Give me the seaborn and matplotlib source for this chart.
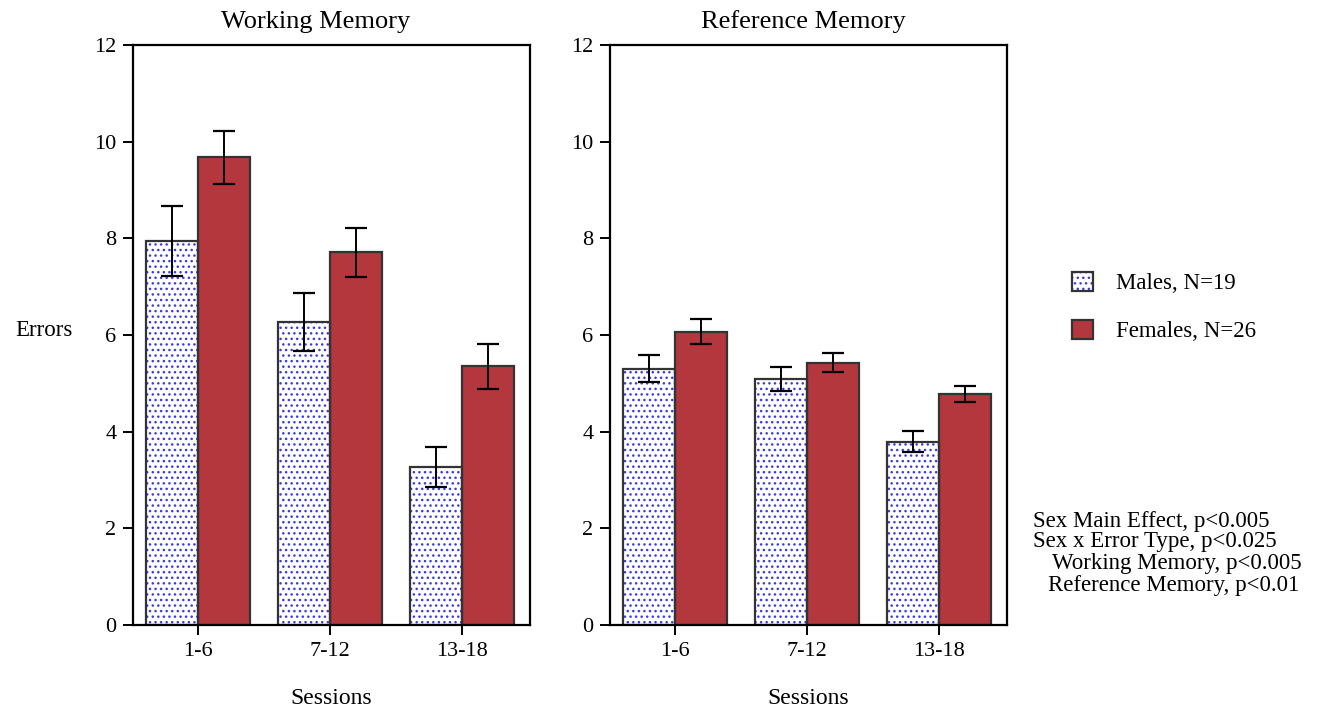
import matplotlib
matplotlib.use("Agg")
import matplotlib.pyplot as plt
from matplotlib.patches import Patch, Rectangle
from matplotlib.legend_handler import HandlerTuple
import pandas as pd
import seaborn as sns

# ---- data -------------------------------------------------------------
sessions = ["1-6", "7-12", "13-18"]
groups = ["Males", "Females"]
legend_labels = ["Males, N=19", "Females, N=26"]

wm_males = [7.95, 6.27, 3.27]
wm_males_se = [0.72, 0.60, 0.42]
wm_females = [9.68, 7.71, 5.35]
wm_females_se = [0.55, 0.50, 0.47]

rm_males = [5.30, 5.09, 3.79]
rm_males_se = [0.28, 0.245, 0.22]
rm_females = [6.07, 5.43, 4.78]
rm_females_se = [0.26, 0.20, 0.17]

panel_titles = ["Working Memory", "Reference Memory"]
y_ticks = [0, 2, 4, 6, 8, 10, 12]
stats_lines = [
    "Sex Main Effect, p<0.005",
    "Sex x Error Type, p<0.025",
    "Working Memory, p<0.005",
    "Reference Memory, p<0.01",
]

# ---- style ------------------------------------------------------------
sns.set_theme(style="white")
plt.rcParams["font.family"] = ["Liberation Serif", "DejaVu Serif"]
plt.rcParams["text.color"] = "black"
plt.rcParams["axes.labelcolor"] = "black"
plt.rcParams["hatch.linewidth"] = 1.0

FEMALE_RED = "#b4373d"
DOT_BLUE = "#3a3ae6"
EDGE = "#333333"
HATCH = "..."

W, H = 1328, 715
fig = plt.figure(figsize=(W / 100, H / 100), dpi=100)


def px_rect(x0, y0, x1, y1):
    return [x0 / W, 1 - y1 / H, (x1 - x0) / W, (y1 - y0) / H]


panels = [
    (px_rect(133, 45, 530, 625), wm_males, wm_males_se, wm_females, wm_females_se),
    (px_rect(610, 45, 1007, 625), rm_males, rm_males_se, rm_females, rm_females_se),
]

for (rect, m, m_se, f, f_se), title in zip(panels, panel_titles):
    ax = fig.add_axes(rect)
    df = pd.DataFrame({
        "Sessions": sessions * 2,
        "Group": [groups[0]] * 3 + [groups[1]] * 3,
        "Errors": list(m) + list(f),
    })
    sns.barplot(data=df, x="Sessions", y="Errors", hue="Group",
                order=sessions, hue_order=groups,
                palette={"Males": "white", "Females": FEMALE_RED},
                saturation=1, width=0.79, errorbar=None, legend=False,
                edgecolor=EDGE, linewidth=1.6, ax=ax)

    male_bars, female_bars = ax.containers[0], ax.containers[1]
    # dotted fill for the male bars, with a separate dark outline on top
    for bar in male_bars:
        bar.set_hatch(HATCH)
        bar.set_edgecolor(DOT_BLUE)
        bar.set_linewidth(0)
        ax.add_patch(Rectangle(bar.get_xy(), bar.get_width(), bar.get_height(),
                               facecolor="none", edgecolor=EDGE, linewidth=1.6,
                               zorder=bar.get_zorder() + 0.1))

    for bars, se in ((male_bars, m_se), (female_bars, f_se)):
        xs = [b.get_x() + b.get_width() / 2 for b in bars]
        ys = [b.get_height() for b in bars]
        ax.errorbar(xs, ys, yerr=se, fmt="none", ecolor="black",
                    elinewidth=1.4, capsize=8, capthick=1.6, zorder=5)

    ax.set_xlim(-0.49, 2.515)
    ax.set_ylim(0, 12)
    ax.set_yticks(y_ticks)
    ax.set_yticklabels([str(t) for t in y_ticks])
    for s in ax.spines.values():
        s.set_visible(True)
        s.set_color("black")
        s.set_linewidth(1.6)
    ax.tick_params(axis="both", direction="out", length=7, width=1.4,
                   colors="black", labelcolor="black", labelsize=16, pad=5)
    ax.tick_params(axis="y", left=True, right=False)
    ax.tick_params(axis="x", bottom=True, top=False)
    ax.set_xlabel("Sessions", fontsize=17, labelpad=20, color="black")
    ax.set_ylabel("")

fig.text(316 / W, 1 - 22 / H, panel_titles[0], ha="center", va="center", fontsize=19)
fig.text(803 / W, 1 - 22 / H, panel_titles[1], ha="center", va="center", fontsize=19)
fig.text(15 / W, 1 - 330 / H, "Errors", ha="left", va="center", fontsize=16.5)

# legend
male_handle = (Patch(facecolor="white", edgecolor=DOT_BLUE, hatch=HATCH, linewidth=0),
               Patch(facecolor="none", edgecolor=EDGE, linewidth=1.6))
female_handle = Patch(facecolor=FEMALE_RED, edgecolor=EDGE, linewidth=1.6)
fig.legend([male_handle, female_handle], legend_labels,
           handler_map={tuple: HandlerTuple(ndivide=1, pad=0)},
           loc="center left", bbox_to_anchor=(1072 / W, 1 - 307 / H),
           frameon=False, fontsize=16.5, handlelength=0.9, handleheight=0.9,
           handletextpad=1.0, labelspacing=1.1, borderpad=0, borderaxespad=0)

# statistics summary
stats_x = [1033, 1033, 1052, 1048]
stats_y = [521, 542, 564, 586]
for txt, sx, sy in zip(stats_lines, stats_x, stats_y):
    fig.text(sx / W, 1 - sy / H, txt, ha="left", va="center", fontsize=16.5)

fig.savefig("out.png", dpi=100)
